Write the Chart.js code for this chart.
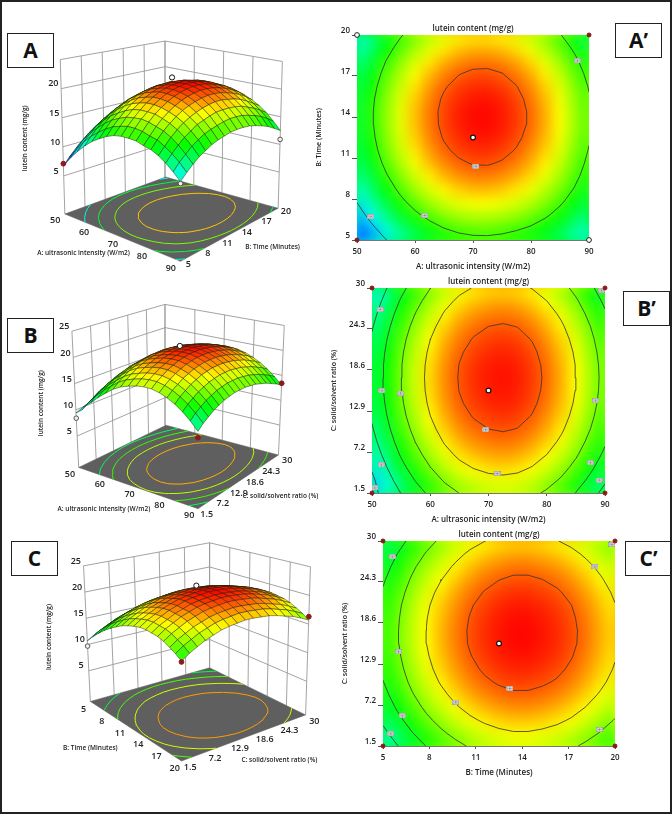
<!DOCTYPE html>
<html>
<head>
<meta charset="utf-8">
<title>lutein content response surfaces</title>
<script src="https://cdn.jsdelivr.net/npm/chart.js@4"></script>
<style>
html, body { margin: 0; padding: 0; background: #fff; }
#page { position: relative; width: 672px; height: 815px; overflow: hidden; background: #fff; }
#frame { position: absolute; left: 0; top: 0; width: 672px; height: 814px; box-sizing: border-box; border: 2px solid #222; z-index: 5; pointer-events: none; }
canvas { position: absolute; }
.tag { position: absolute; box-sizing: border-box; width: 47px; height: 35px; border: 1.5px solid #222; background: #fff; z-index: 4;
       font: bold 21px "Open Sans", sans-serif; color: #111; text-align: center; line-height: 32px; }
</style>
</head>
<body>
<div id="page">
  <div id="frame"></div>
  <div class="tag" style="left:7px;top:33px">A</div>
  <div class="tag" style="left:615px;top:23px">A’</div>
  <div class="tag" style="left:7px;top:318px">B</div>
  <div class="tag" style="left:623px;top:291px">B’</div>
  <div class="tag" style="left:11px;top:541px">C</div>
  <div class="tag" style="left:625px;top:541px">C’</div>
</div>
<script>
// tick labels
const intensityTicks = [50, 60, 70, 80, 90];
const timeTicks = [5, 8, 11, 14, 17, 20];
const ratioTicks = [1.5, 7.2, 12.9, 18.6, 24.3, 30];
const contentTicks = [5, 10, 15, 20, 25];

// factor values of the grid nodes
const intensityGrid = [50, 52.5, 55, 57.5, 60, 62.5, 65, 67.5, 70, 72.5, 75, 77.5, 80, 82.5, 85, 87.5, 90];
const timeGrid = [5, 5.94, 6.88, 7.81, 8.75, 9.69, 10.63, 11.56, 12.5, 13.44, 14.38, 15.31, 16.25, 17.19, 18.13, 19.06, 20];
const ratioGrid = [1.5, 3.28, 5.06, 6.84, 8.63, 10.41, 12.19, 13.97, 15.75, 17.53, 19.31, 21.09, 22.88, 24.66, 26.44, 28.22, 30];

// lutein content, one row per time value, one column per intensity value
const contentByIntensityTime = [
  [6.7,8.5,10.0,11.3,12.4,13.2,13.9,14.4,14.6,14.6,14.5,14.1,13.8,13.2,12.4,11.4,10.3],
  [8.0,9.7,11.3,12.6,13.6,14.5,15.2,15.6,15.9,15.9,15.7,15.3,15.0,14.3,13.5,12.5,11.3],
  [9.1,10.9,12.4,13.7,14.8,15.7,16.3,16.8,17.0,17.1,16.9,16.5,16.1,15.4,14.5,13.4,12.2],
  [10.1,11.9,13.4,14.7,15.8,16.6,17.3,17.8,18.0,18.0,17.9,17.5,17.0,16.3,15.4,14.3,13.0],
  [11.0,12.7,14.2,15.5,16.6,17.5,18.2,18.6,18.9,18.9,18.7,18.3,17.8,17.1,16.1,15.0,13.6],
  [11.7,13.4,14.9,16.2,17.3,18.2,18.9,19.3,19.6,19.6,19.4,19.0,18.5,17.7,16.8,15.6,14.2],
  [12.3,14.0,15.5,16.8,17.9,18.8,19.5,19.9,20.2,20.2,20.0,19.6,19.0,18.2,17.2,16.0,14.6],
  [12.7,14.4,16.0,17.3,18.3,19.2,19.9,20.3,20.6,20.6,20.4,20.0,19.4,18.6,17.6,16.3,14.9],
  [13.0,14.7,16.2,17.5,18.6,19.5,20.2,20.6,20.9,20.9,20.7,20.3,19.7,18.9,17.9,16.6,15.2],
  [13.1,14.9,16.4,17.7,18.8,19.7,20.3,20.8,21.0,21.1,20.9,20.5,19.9,19.1,18.0,16.8,15.3],
  [13.2,14.9,16.4,17.7,18.8,19.7,20.4,20.8,21.1,21.1,20.9,20.5,19.9,19.1,18.0,16.8,15.3],
  [13.0,14.8,16.3,17.6,18.7,19.6,20.2,20.7,20.9,21.0,20.8,20.4,19.8,18.9,17.9,16.7,15.2],
  [12.8,14.5,16.0,17.3,18.4,19.3,20.0,20.4,20.7,20.7,20.5,20.1,19.5,18.7,17.7,16.4,14.9],
  [12.4,14.1,15.6,16.9,18.0,18.9,19.6,20.0,20.3,20.3,20.1,19.7,19.1,18.3,17.2,16.0,14.5],
  [11.8,13.6,15.1,16.4,17.5,18.3,19.0,19.5,19.7,19.7,19.6,19.2,18.6,17.7,16.7,15.5,14.0],
  [11.1,12.9,14.4,15.7,16.8,17.7,18.3,18.8,19.0,19.1,18.9,18.5,17.9,17.0,16.0,14.8,13.3],
  [10.3,12.0,13.6,14.9,15.9,16.8,17.5,17.9,18.2,18.2,18.0,17.6,17.0,16.2,15.2,13.9,12.5]
];

// one row per ratio value, one column per intensity value
const contentByIntensityRatio = [
  [9.4,10.9,12.0,13.3,14.4,15.4,16.1,16.5,16.8,16.9,16.8,16.4,15.8,15.0,14.0,12.8,11.4],
  [9.5,11.3,12.9,14.2,15.3,16.3,17.0,17.4,17.7,17.8,17.7,17.3,16.7,15.9,14.9,13.7,12.3],
  [10.2,12.0,13.6,14.9,16.0,17.0,17.7,18.1,18.4,18.5,18.4,18.0,17.4,16.6,15.6,14.4,13.0],
  [10.9,12.7,14.3,15.6,16.7,17.7,18.4,18.8,19.1,19.2,19.1,18.7,18.1,17.3,16.3,15.1,13.7],
  [11.4,13.2,14.8,16.1,17.2,18.2,18.9,19.3,19.6,19.7,19.6,19.2,18.6,17.8,16.8,15.6,14.2],
  [11.9,13.7,15.3,16.6,17.7,18.7,19.4,19.8,20.1,20.2,20.1,19.7,19.1,18.3,17.3,16.1,14.7],
  [12.2,14.0,15.6,17.0,18.0,19.0,19.7,20.1,20.4,20.5,20.4,20.0,19.4,18.6,17.6,16.4,15.0],
  [12.5,14.3,15.9,17.2,18.3,19.3,20.0,20.4,20.7,20.8,20.7,20.3,19.7,18.9,17.9,16.7,15.3],
  [12.7,14.4,16.0,17.3,18.5,19.4,20.1,20.5,20.8,20.9,20.8,20.4,19.8,19.0,18.0,16.8,15.4],
  [12.7,14.5,16.1,17.4,18.5,19.5,20.2,20.6,20.9,21.0,20.9,20.5,19.9,19.1,18.1,16.9,15.5],
  [12.7,14.4,16.0,17.3,18.5,19.4,20.1,20.5,20.8,20.9,20.8,20.4,19.8,19.0,18.0,16.8,15.4],
  [12.5,14.3,15.9,17.2,18.3,19.3,20.0,20.4,20.7,20.8,20.7,20.3,19.7,18.9,17.9,16.7,15.3],
  [12.2,14.0,15.6,17.0,18.0,19.0,19.7,20.1,20.4,20.5,20.4,20.0,19.4,18.6,17.6,16.4,15.0],
  [11.9,13.7,15.3,16.6,17.7,18.7,19.4,19.8,20.1,20.2,20.1,19.7,19.1,18.3,17.3,16.1,14.7],
  [11.4,13.2,14.8,16.1,17.2,18.2,18.9,19.3,19.6,19.7,19.6,19.2,18.6,17.8,16.8,15.6,14.2],
  [10.9,12.7,14.3,15.6,16.7,17.7,18.4,18.8,19.1,19.2,19.1,18.7,18.1,17.3,16.3,15.1,13.7],
  [10.2,12.0,13.6,14.9,16.0,17.0,17.7,18.1,18.4,18.5,18.4,18.0,17.4,16.6,15.6,14.4,13.0]
];

// one row per ratio value, one column per time value
const contentByTimeRatio = [
  [10.7,12.0,13.1,14.1,14.9,15.6,16.2,16.6,16.9,17.1,17.1,16.9,16.7,16.3,15.7,15.1,14.3],
  [11.6,12.9,14.0,15.0,15.8,16.5,17.1,17.5,17.8,18.0,18.0,17.8,17.6,17.2,16.6,16.0,15.2],
  [12.3,13.6,14.7,15.7,16.5,17.2,17.8,18.2,18.5,18.7,18.7,18.5,18.3,17.9,17.3,16.7,15.9],
  [13.0,14.3,15.4,16.4,17.2,17.9,18.5,18.9,19.2,19.4,19.4,19.2,19.0,18.6,18.0,17.4,16.6],
  [13.5,14.8,15.9,16.9,17.7,18.4,19.0,19.4,19.7,19.9,19.9,19.7,19.5,19.1,18.5,17.9,17.1],
  [14.0,15.3,16.4,17.4,18.2,18.9,19.5,19.9,20.2,20.4,20.4,20.2,20.0,19.6,19.0,18.4,17.6],
  [14.3,15.6,16.7,17.7,18.5,19.2,19.8,20.2,20.5,20.7,20.7,20.5,20.3,19.9,19.3,18.7,17.9],
  [14.5,15.8,16.9,17.9,18.7,19.4,20.0,20.4,20.7,20.9,20.9,20.7,20.5,20.1,19.5,18.9,18.1],
  [14.7,16.0,17.1,18.1,18.9,19.6,20.2,20.6,20.9,21.1,21.1,20.9,20.7,20.3,19.7,19.1,18.3],
  [14.7,16.0,17.1,18.1,18.9,19.6,20.2,20.6,20.9,21.1,21.1,20.9,20.7,20.3,19.7,19.1,18.3],
  [14.6,15.9,17.0,18.0,18.8,19.5,20.1,20.5,20.8,21.0,21.0,20.8,20.6,20.2,19.6,19.0,18.2],
  [14.5,15.8,16.9,17.9,18.7,19.4,20.0,20.4,20.7,20.9,20.9,20.7,20.5,20.1,19.5,18.9,18.1],
  [14.2,15.5,16.6,17.6,18.4,19.1,19.7,20.1,20.4,20.6,20.6,20.4,20.2,19.8,19.2,18.6,17.8],
  [13.8,15.1,16.2,17.2,18.0,18.7,19.3,19.7,20.0,20.2,20.2,20.0,19.8,19.4,18.8,18.2,17.4],
  [13.3,14.7,15.8,16.8,17.5,18.2,18.9,19.3,19.6,19.8,19.8,19.6,19.4,19.0,18.4,17.8,17.0],
  [12.8,14.1,15.2,16.2,17.0,17.7,18.3,18.7,19.0,19.2,19.2,19.0,18.8,18.4,17.8,17.2,16.4],
  [12.1,13.4,14.5,15.5,16.3,17.0,17.6,18.0,18.3,18.5,18.5,18.3,18.1,17.7,17.1,16.5,15.7]
];

// contour levels
const levelsA = [20, 15, 10];
const levelsB = [20, 18, 16, 14, 12, 10];
const levelsC = [20, 18, 16, 14, 12];
const floorLevelsA = [18.7, 16, 13.5, 11];
const floorLevelsB = [19, 17, 15, 13];
const floorLevelsC = [19.2, 17.3, 15.4, 13.5];

// design points, [x factor, y factor, content]
const designA = [[50, 5, 7.1], [90, 20, 10.9], [90, 5, 10.0], [70, 12.5, 22.2]];
const designB = [[50, 1.5, 8.4], [90, 30, 13.4], [90, 1.5, 10.4], [70, 15.75, 21.4]];
const designC = [[5, 1.5, 9.7], [20, 30, 16.3], [20, 1.5, 14.2], [12.5, 15.75, 21.6]];
const designKindsA = ['dark', 'pale', 'pale', 'center'];
const designKindsB = ['pale', 'dark', 'dark', 'center'];
const designKindsC = ['pale', 'dark', 'dark', 'center'];

// where the contour labels sit on the flat plots
const labelSpotsA = [[88, 18.1], [70.5, 10.4], [61.7, 6.8], [52.4, 6.7]];
const labelSpotsB = [[51.4, 27], [51.7, 15.7], [54.9, 15.4], [51.6, 5.4], [50.5, 2.2], [69.5, 10.3], [71.5, 4.2], [88.4, 14.3], [87.5, 5.7], [89, 3.3], [89.4, 29.7]];
const labelSpotsC = [[5.6, 27.8], [6, 14.6], [6.25, 5.7], [5.5, 3.2], [9.7, 7.6], [13.2, 9.5], [18.7, 26.4], [19.8, 29.5], [19, 3.8]];

// corner and centre markers of the flat plots
const darkA = [[50, 5], [90, 20]];
const paleA = [[50, 20], [90, 5]];
const centerA = [[70, 12.5]];
const darkB = [[50, 1.5], [50, 30], [90, 1.5], [90, 30]];
const centerB = [[70, 15.75]];
const darkC = [[5, 1.5], [5, 30], [20, 1.5], [20, 30]];
const centerC = [[12.5, 15.75]];

const FONT = '"Open Sans", sans-serif';
const TEXT = '#222';
const titleText = 'lutein content (mg/g)';
const intensityTitle = 'A: ultrasonic intensity (W/m2)';
const timeTitle = 'B: Time (Minutes)';
const ratioTitle = 'C: solid/solvent ratio (%)';

Chart.defaults.animation = false;
Chart.defaults.font.family = FONT;

// blue - cyan - green - yellow - red, like the design software
const rampStops = [
  [6.9, [0, 0, 255]], [10.6, [0, 255, 255]], [14.3, [0, 255, 0]], [18, [255, 255, 0]], [21.1, [255, 0, 0]]
];
function rampColor(v) {
  if (v <= rampStops[0][0]) return 'rgb(0,0,255)';
  for (let i = 1; i < rampStops.length; i++) {
    const [v1, c1] = rampStops[i];
    if (v <= v1) {
      const [v0, c0] = rampStops[i - 1];
      const t = (v - v0) / (v1 - v0);
      return 'rgb(' + c0.map((c, k) => Math.round(c + (c1[k] - c) * t)).join(',') + ')';
    }
  }
  return 'rgb(255,0,0)';
}

// the values are read to one decimal, this takes the rounding wobble out of contours and colours
function smoothLine(line) {
  return line.map((v, i) => {
    const a = i > 0 ? line[i - 1] : 2 * v - line[i + 1];
    const b = i < line.length - 1 ? line[i + 1] : 2 * v - line[i - 1];
    return (a + 2 * v + b) / 4;
  });
}
function smoothRows(rows) {
  const across = rows.map(smoothLine);
  const cols = across[0].map((_, i) => smoothLine(across.map(r => r[i])));
  return rows.map((r, j) => r.map((_, i) => cols[i][j]));
}

// marching squares over the value grid, gives flat [x, y] pairs with a gap after each piece
function contourPieces(xs, ys, rows, level) {
  const out = [];
  for (let j = 0; j < ys.length - 1; j++) {
    for (let i = 0; i < xs.length - 1; i++) {
      const v = [rows[j][i], rows[j][i + 1], rows[j + 1][i + 1], rows[j + 1][i]];
      const c = [[xs[i], ys[j]], [xs[i + 1], ys[j]], [xs[i + 1], ys[j + 1]], [xs[i], ys[j + 1]]];
      const hits = [];
      for (let e = 0; e < 4; e++) {
        const a = v[e], b = v[(e + 1) % 4];
        if ((a < level) !== (b < level)) {
          const t = (level - a) / (b - a);
          const p = c[e], q = c[(e + 1) % 4];
          hits.push([p[0] + (q[0] - p[0]) * t, p[1] + (q[1] - p[1]) * t]);
        }
      }
      for (let h = 0; h + 1 < hits.length; h += 2) out.push(hits[h], hits[h + 1], null);
    }
  }
  return out;
}

// smooths the heat cells once they are painted
const heatBlur = {
  id: 'heatBlur',
  afterDatasetDraw(chart, args) {
    if (!chart.data.datasets[args.index].isHeat) return;
    const { left, top, width, height } = chart.chartArea;
    const m = 20;
    const tmp = document.createElement('canvas');
    tmp.width = width + 2 * m;
    tmp.height = height + 2 * m;
    const t = tmp.getContext('2d');
    t.drawImage(chart.canvas, left, top, width, height, 0, 0, tmp.width, tmp.height);
    t.drawImage(chart.canvas, left, top, width, height, m, m, width, height);
    const ctx = chart.ctx;
    ctx.save();
    ctx.beginPath();
    ctx.rect(left, top, width, height);
    ctx.clip();
    ctx.filter = 'blur(6px)';
    ctx.drawImage(tmp, left - m, top - m);
    ctx.restore();
  }
};

// the little label chip on a contour line, its text is too small to read in the picture
function labelChip() {
  const c = document.createElement('canvas');
  c.width = 7;
  c.height = 5;
  const g = c.getContext('2d');
  g.fillStyle = '#f2f2f2';
  g.fillRect(0, 0, 7, 5);
  g.strokeStyle = '#8a8a8a';
  g.lineWidth = 0.6;
  g.strokeRect(0.3, 0.3, 6.4, 4.4);
  g.fillStyle = '#777';
  g.fillRect(1.5, 1.5, 1, 2);
  g.fillRect(3, 1.5, 1, 2);
  g.fillRect(4.5, 1.5, 1, 2);
  return c;
}

function addCanvas(left, top, width, height, z) {
  const c = document.createElement('canvas');
  c.width = width;
  c.height = height;
  c.style.left = left + 'px';
  c.style.top = top + 'px';
  c.style.zIndex = z || 1;
  document.getElementById('page').appendChild(c);
  return c;
}

const toXY = list => list.map(p => ({ x: p[0], y: p[1] }));

// flat contour plot
function contourChart(p) {
  const leftGap = 42, topGap = 15, rightGap = 12, bottomGap = 32;
  const w = p.right - p.left, h = p.bottom - p.top;
  const canvas = addCanvas(p.left - leftGap, p.top - topGap, leftGap + w + rightGap, topGap + h + bottomGap);
  const soft = smoothRows(p.rows);
  const cells = [], cellColors = [];
  soft.forEach((row, j) => row.forEach((v, i) => {
    cells.push({ x: p.xs[i], y: p.ys[j] });
    cellColors.push(rampColor(v));
  }));
  const lines = p.levels.map(level => ({
    data: contourPieces(p.xs, p.ys, soft, level).map(q => q ? { x: q[0], y: q[1] } : { x: NaN, y: NaN }),
    showLine: true, borderColor: '#333', borderWidth: 0.8, pointRadius: 0, order: 5
  }));
  const marker = (list, fill, line, r, width) => ({
    data: toXY(list), pointStyle: 'circle', pointRadius: r, backgroundColor: fill, borderColor: line, borderWidth: width, clip: false, order: 1
  });
  new Chart(canvas, {
    type: 'scatter',
    plugins: [heatBlur],
    data: {
      datasets: [
        { isHeat: true, data: cells, pointStyle: 'rect', pointRadius: 11, backgroundColor: cellColors, borderWidth: 0, order: 10 },
        ...lines,
        { data: toXY(p.labelSpots), pointStyle: labelChip(), order: 3 },
        marker(p.dark, '#8b1a1a', '#8b1a1a', 2, 1),
        marker(p.pale || [], '#fff', '#222', 2.4, 1),
        marker(p.center, '#fff', '#111', 2.4, 1.2)
      ]
    },
    options: {
      responsive: false,
      layout: { padding: { right: rightGap } },
      plugins: {
        legend: { display: false },
        tooltip: { enabled: false },
        title: { display: true, fullSize: false, text: titleText, color: TEXT, font: { size: 8, weight: '600' }, padding: { top: 4.2, bottom: 1.2 } }
      },
      scales: {
        x: {
          type: 'linear', min: p.xs[0], max: p.xs[p.xs.length - 1],
          afterBuildTicks: s => { s.ticks = p.xTicks.map(v => ({ value: v })); },
          afterFit: s => { s.height = bottomGap; },
          grid: { drawOnChartArea: false, tickLength: 3, color: '#555' },
          border: { color: '#777' },
          ticks: { color: TEXT, font: { size: 8, weight: '600' }, padding: 4, maxRotation: 0, autoSkip: false, callback: v => String(v) },
          title: { display: true, text: p.xTitle, color: TEXT, font: { size: 8, weight: '600' }, padding: { top: 0, bottom: 0 } }
        },
        y: {
          type: 'linear', min: p.ys[0], max: p.ys[p.ys.length - 1],
          afterBuildTicks: s => { s.ticks = p.yTicks.map(v => ({ value: v })); },
          afterFit: s => { s.width = leftGap; },
          grid: { drawOnChartArea: false, tickLength: 5, color: '#555' },
          border: { color: '#777' },
          ticks: { color: TEXT, font: { size: 8, weight: '600' }, padding: 2, labelOffset: -4, autoSkip: false, callback: v => String(v) },
          title: { display: true, text: p.yTitle, color: TEXT, font: { size: 7, weight: '600' }, padding: { top: 0, bottom: 0 } }
        }
      }
    }
  });
}

// 3D panel: the axes are hidden and run in page pixels, the box corners turn data into page positions
function surfaceChart(p) {
  const canvas = addCanvas(0, p.canvasTop, 330, p.canvasHeight);
  const last = a => a[a.length - 1];
  const mix = (a, b, t) => a + (b - a) * t;
  const corner = (q, u, v) => [
    (1 - u) * (1 - v) * q.L[0] + u * (1 - v) * q.F[0] + u * v * q.R[0] + (1 - u) * v * q.B[0],
    (1 - u) * (1 - v) * q.L[1] + u * (1 - v) * q.F[1] + u * v * q.R[1] + (1 - u) * v * q.B[1]
  ];
  const toU = x => (x - p.xs[0]) / (last(p.xs) - p.xs[0]);
  const toV = y => (y - p.ys[0]) / (last(p.ys) - p.ys[0]);
  const project = (x, y, z) => {
    const f = corner(p.floor, toU(x), toV(y));
    const t = corner(p.roof, toU(x), toV(y));
    const w = (z - p.zFloor) / (p.zRoof - p.zFloor);
    return { x: mix(f[0], t[0], w), y: mix(f[1], t[1], w) };
  };
  const gap = { x: NaN, y: NaN };
  const x0 = p.xs[0], x1 = last(p.xs), y0 = p.ys[0], y1 = last(p.ys);

  // walls
  const wall = [];
  contentTicks.forEach(z => wall.push(project(x0, y0, z), project(x0, y1, z), project(x1, y1, z), gap));
  p.yTicks.forEach(y => wall.push(project(x0, y, p.zFloor), project(x0, y, p.zRoof), gap));
  p.xTicks.forEach(x => wall.push(project(x, y1, p.zFloor), project(x, y1, p.zRoof), gap));

  const sets = [
    { data: wall, showLine: true, borderColor: '#999', borderWidth: 0.9, pointRadius: 0, clip: false, order: 5000 },
    { data: [project(x0, y0, p.zFloor), project(x1, y0, p.zFloor), project(x1, y1, p.zFloor), project(x0, y1, p.zFloor), project(x0, y0, p.zFloor)],
      showLine: true, fill: 'shape', backgroundColor: '#5f5f5f', borderColor: '#5f5f5f', borderWidth: 0.5, pointRadius: 0, clip: false, order: 4000 }
  ];
  const soft = smoothRows(p.rows);
  p.floorLevels.forEach(level => {
    sets.push({
      data: contourPieces(p.xs, p.ys, soft, level).map(q => q ? project(q[0], q[1], p.zFloor) : gap),
      showLine: true, borderColor: rampColor(level), borderWidth: 1, pointRadius: 0, clip: false, order: 3000
    });
  });

  // surface tiles, furthest from the viewer gets painted first
  for (let j = 0; j < p.ys.length - 1; j++) {
    for (let i = 0; i < p.xs.length - 1; i++) {
      const vals = [p.rows[j][i], p.rows[j][i + 1], p.rows[j + 1][i + 1], p.rows[j + 1][i]];
      const mean = (vals[0] + vals[1] + vals[2] + vals[3]) / 4;
      const a = project(p.xs[i], p.ys[j], vals[0]);
      sets.push({
        data: [a, project(p.xs[i + 1], p.ys[j], vals[1]), project(p.xs[i + 1], p.ys[j + 1], vals[2]), project(p.xs[i], p.ys[j + 1], vals[3]), a],
        showLine: true, fill: 'shape', backgroundColor: rampColor(mean), borderColor: 'rgba(20,30,10,0.75)', borderWidth: 0.6,
        pointRadius: 0, clip: false, order: 2000 - (i - j)
      });
    }
  }

  // design points
  const kindStyle = {
    dark: { fill: '#8b1a1a', line: '#8b1a1a', r: 2.4 },
    pale: { fill: '#fbeaea', line: '#555', r: 2.3 },
    center: { fill: '#fff', line: '#111', r: 2.6 }
  };
  p.design.forEach((d, n) => {
    const s = kindStyle[p.kinds[n]];
    sets.push({ data: [project(d[0], d[1], d[2])], pointStyle: 'circle', pointRadius: s.r, backgroundColor: s.fill, borderColor: s.line, borderWidth: 1, clip: false, order: 1 });
  });

  const labels = {
    id: 'surfaceLabels',
    afterDraw(chart) {
      const ctx = chart.ctx, sx = chart.scales.x, sy = chart.scales.y;
      const put = (text, x, y, rot) => {
        ctx.save();
        ctx.translate(sx.getPixelForValue(x), sy.getPixelForValue(y));
        if (rot) ctx.rotate(rot);
        ctx.fillText(text, 0, 0);
        ctx.restore();
      };
      ctx.save();
      ctx.fillStyle = TEXT;
      ctx.textAlign = 'center';
      ctx.textBaseline = 'middle';
      ctx.font = '600 9px ' + FONT;
      p.xTicks.forEach(x => { const q = project(x, y0, p.zFloor); put(String(x), q.x + p.xLabelShift[0], q.y + p.xLabelShift[1]); });
      p.yTicks.forEach(y => { const q = project(x1, y, p.zFloor); put(String(y), q.x + p.yLabelShift[0], q.y + p.yLabelShift[1]); });
      p.zLabels.forEach(z => { const q = project(x0, y0, z); put(String(z), q.x + p.zLabelShift[0], q.y + p.zLabelShift[1]); });
      ctx.font = '600 6.5px ' + FONT;
      put(p.xTitle, p.xTitleAt[0], p.xTitleAt[1]);
      put(p.yTitle, p.yTitleAt[0], p.yTitleAt[1]);
      put(titleText, p.zTitleAt[0], p.zTitleAt[1], -Math.PI / 2);
      ctx.restore();
    }
  };

  new Chart(canvas, {
    type: 'scatter',
    plugins: [labels],
    data: { datasets: sets },
    options: {
      responsive: false,
      plugins: { legend: { display: false }, tooltip: { enabled: false }, title: { display: false } },
      scales: {
        x: { type: 'linear', display: false, min: 0, max: 330 },
        y: { type: 'linear', display: false, min: p.canvasTop, max: p.canvasTop + p.canvasHeight, reverse: true }
      }
    }
  });
}

surfaceChart({
  canvasTop: 20, canvasHeight: 255,
  xs: intensityGrid, ys: timeGrid, rows: contentByIntensityTime, xTicks: intensityTicks, yTicks: timeTicks,
  floorLevels: floorLevelsA, design: designA, kinds: designKindsA,
  zFloor: -1.55, zRoof: 25, zLabels: [5, 10, 15, 20],
  floor: { L: [61.7, 216.7], F: [181, 266], R: [281.7, 210.7], B: [165.7, 178.3] },
  roof: { L: [57, 56], F: [181, 80], R: [286, 58], B: [165, 36.7] },
  xLabelShift: [-10, 7], yLabelShift: [8, 3], zLabelShift: [-8, -5],
  xTitle: intensityTitle, yTitle: timeTitle,
  xTitleAt: [81, 257], yTitleAt: [276, 251], zTitleAt: [21, 138]
});
surfaceChart({
  canvasTop: 285, canvasHeight: 245,
  xs: intensityGrid, ys: ratioGrid, rows: contentByIntensityRatio, xTicks: intensityTicks, yTicks: ratioTicks,
  floorLevels: floorLevelsB, design: designB, kinds: designKindsB,
  zFloor: -1, zRoof: 25, zLabels: contentTicks,
  floor: { L: [76, 470], F: [199, 513], R: [282, 457], B: [166, 426] },
  roof: { L: [69, 328], F: [199, 344], R: [288, 322], B: [165, 300] },
  xLabelShift: [-9, 7], yLabelShift: [9, 6], zLabelShift: [-8, -4.5],
  xTitle: intensityTitle, yTitle: ratioTitle,
  xTitleAt: [102, 513], yTitleAt: [284, 500], zTitleAt: [37, 403]
});
surfaceChart({
  canvasTop: 532, canvasHeight: 260,
  xs: timeGrid, ys: ratioGrid, rows: contentByTimeRatio, xTicks: timeTicks, yTicks: ratioTicks,
  floorLevels: floorLevelsC, design: designC, kinds: designKindsC,
  zFloor: -0.85, zRoof: 25, zLabels: contentTicks,
  floor: { L: [88, 703], F: [182, 765], R: [310, 717], B: [211, 668] },
  roof: { L: [81, 562], F: [182, 588], R: [315, 563], B: [211, 538] },
  xLabelShift: [-7, 8], yLabelShift: [9, 6.5], zLabelShift: [-8, -5],
  xTitle: timeTitle, yTitle: ratioTitle,
  xTitleAt: [88, 752], yTitleAt: [283, 764], zTitleAt: [46, 636]
});

contourChart({
  left: 357, right: 589, top: 35, bottom: 240,
  xs: intensityGrid, ys: timeGrid, rows: contentByIntensityTime, levels: levelsA,
  xTicks: intensityTicks, yTicks: timeTicks, xTitle: intensityTitle, yTitle: timeTitle,
  labelSpots: labelSpotsA, dark: darkA, pale: paleA, center: centerA
});
contourChart({
  left: 372, right: 605, top: 288, bottom: 493,
  xs: intensityGrid, ys: ratioGrid, rows: contentByIntensityRatio, levels: levelsB,
  xTicks: intensityTicks, yTicks: ratioTicks, xTitle: intensityTitle, yTitle: ratioTitle,
  labelSpots: labelSpotsB, dark: darkB, center: centerB
});
contourChart({
  left: 383, right: 615, top: 541, bottom: 746,
  xs: timeGrid, ys: ratioGrid, rows: contentByTimeRatio, levels: levelsC,
  xTicks: timeTicks, yTicks: ratioTicks, xTitle: timeTitle, yTitle: ratioTitle,
  labelSpots: labelSpotsC, dark: darkC, center: centerC
});
</script>
</body>
</html>
